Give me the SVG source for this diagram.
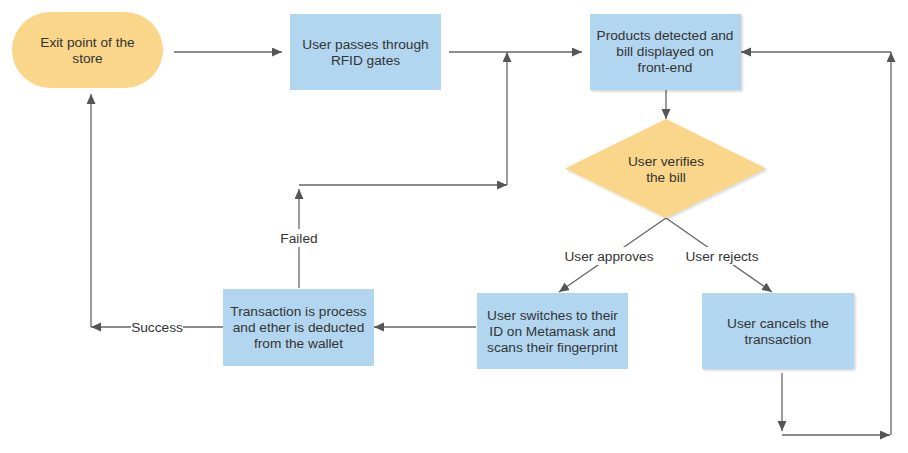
<svg xmlns="http://www.w3.org/2000/svg" width="908" height="453" viewBox="0 0 908 453">
<style>
text{font-family:"Liberation Sans",Arial,Helvetica,sans-serif;font-size:13.7px;fill:#333;text-anchor:middle}
.y{fill:#fad68a}
.b{fill:#b2d6ef}
.e{fill:none;stroke:#666;stroke-width:1.3}
.a{marker-end:url(#ah)}
.lb{fill:#fff}
</style>
<defs>
<marker id="ah" markerUnits="userSpaceOnUse" markerWidth="10" markerHeight="10" refX="10" refY="4.5" orient="auto">
<path d="M0,0 L10,4.5 L0,9 z" fill="#555"/>
</marker>
<filter id="sh" x="-10%" y="-10%" width="130%" height="130%">
<feDropShadow dx="1.5" dy="1.5" stdDeviation="1.2" flood-color="#000" flood-opacity="0.18"/>
</filter>
</defs>
<g id="connectors">
<path class="e a" d="M174,52 H282"/>
<path class="e a" d="M449,52 H582"/>
<path class="e a" d="M666,90 V119"/>
<path class="e a" d="M666,218 L559,292"/>
<path class="e a" d="M666,218 L772,292"/>
<path class="e a" d="M476,327 H374"/>
<path class="e a" d="M223,327 H91"/>
<path class="e a" d="M91,327 V94"/>
<path class="e a" d="M299,288 V189"/>
<path class="e a" d="M299,185 H507"/>
<path class="e a" d="M507,185 V52"/>
<path class="e a" d="M782,373 V431"/>
<path class="e a" d="M782,435 H890"/>
<path class="e a" d="M891,435 V52"/>
<path class="e a" d="M891,52 H741"/>
<rect class="lb" x="278" y="229" width="42" height="18"/>
<text x="299" y="243">Failed</text>
<rect class="lb" x="131" y="318" width="52" height="18"/>
<text x="157" y="332">Success</text>
<rect class="lb" x="563" y="247" width="92" height="18"/>
<text x="609" y="261">User approves</text>
<rect class="lb" x="682" y="247" width="80" height="18"/>
<text x="722" y="261">User rejects</text>
</g>
<g id="exit">
<rect class="y" x="12" y="12" width="151" height="76" rx="38" ry="38"/>
<text x="87.5" y="47">Exit point of the</text>
<text x="87.5" y="63">store</text>
</g>
<g id="rfid">
<rect class="b" x="290" y="14" width="151" height="76"/>
<text x="365.5" y="49">User passes through</text>
<text x="365.5" y="65">RFID gates</text>
</g>
<g id="products">
<rect class="b" x="590" y="14" width="151" height="76" filter="url(#sh)"/>
<text x="665" y="40">Products detected and</text>
<text x="665" y="56">bill displayed on</text>
<text x="665" y="72">front-end</text>
</g>
<g id="verify">
<polygon class="y" points="666,119 766,168.5 666,218 565,168.5" filter="url(#sh)"/>
<text x="666" y="166">User verifies</text>
<text x="666" y="182">the bill</text>
</g>
<g id="metamask">
<rect class="b" x="477" y="293" width="151" height="76"/>
<text x="552.5" y="320">User switches to their</text>
<text x="552.5" y="336">ID on Metamask and</text>
<text x="552.5" y="352">scans their fingerprint</text>
</g>
<g id="cancel">
<rect class="b" x="702" y="293" width="152" height="76" filter="url(#sh)"/>
<text x="778" y="328">User cancels the</text>
<text x="778" y="344">transaction</text>
</g>
<g id="transaction">
<rect class="b" x="223" y="289" width="151" height="77"/>
<text x="298.5" y="316">Transaction is process</text>
<text x="298.5" y="332">and ether is deducted</text>
<text x="298.5" y="348">from the wallet</text>
</g>
</svg>
